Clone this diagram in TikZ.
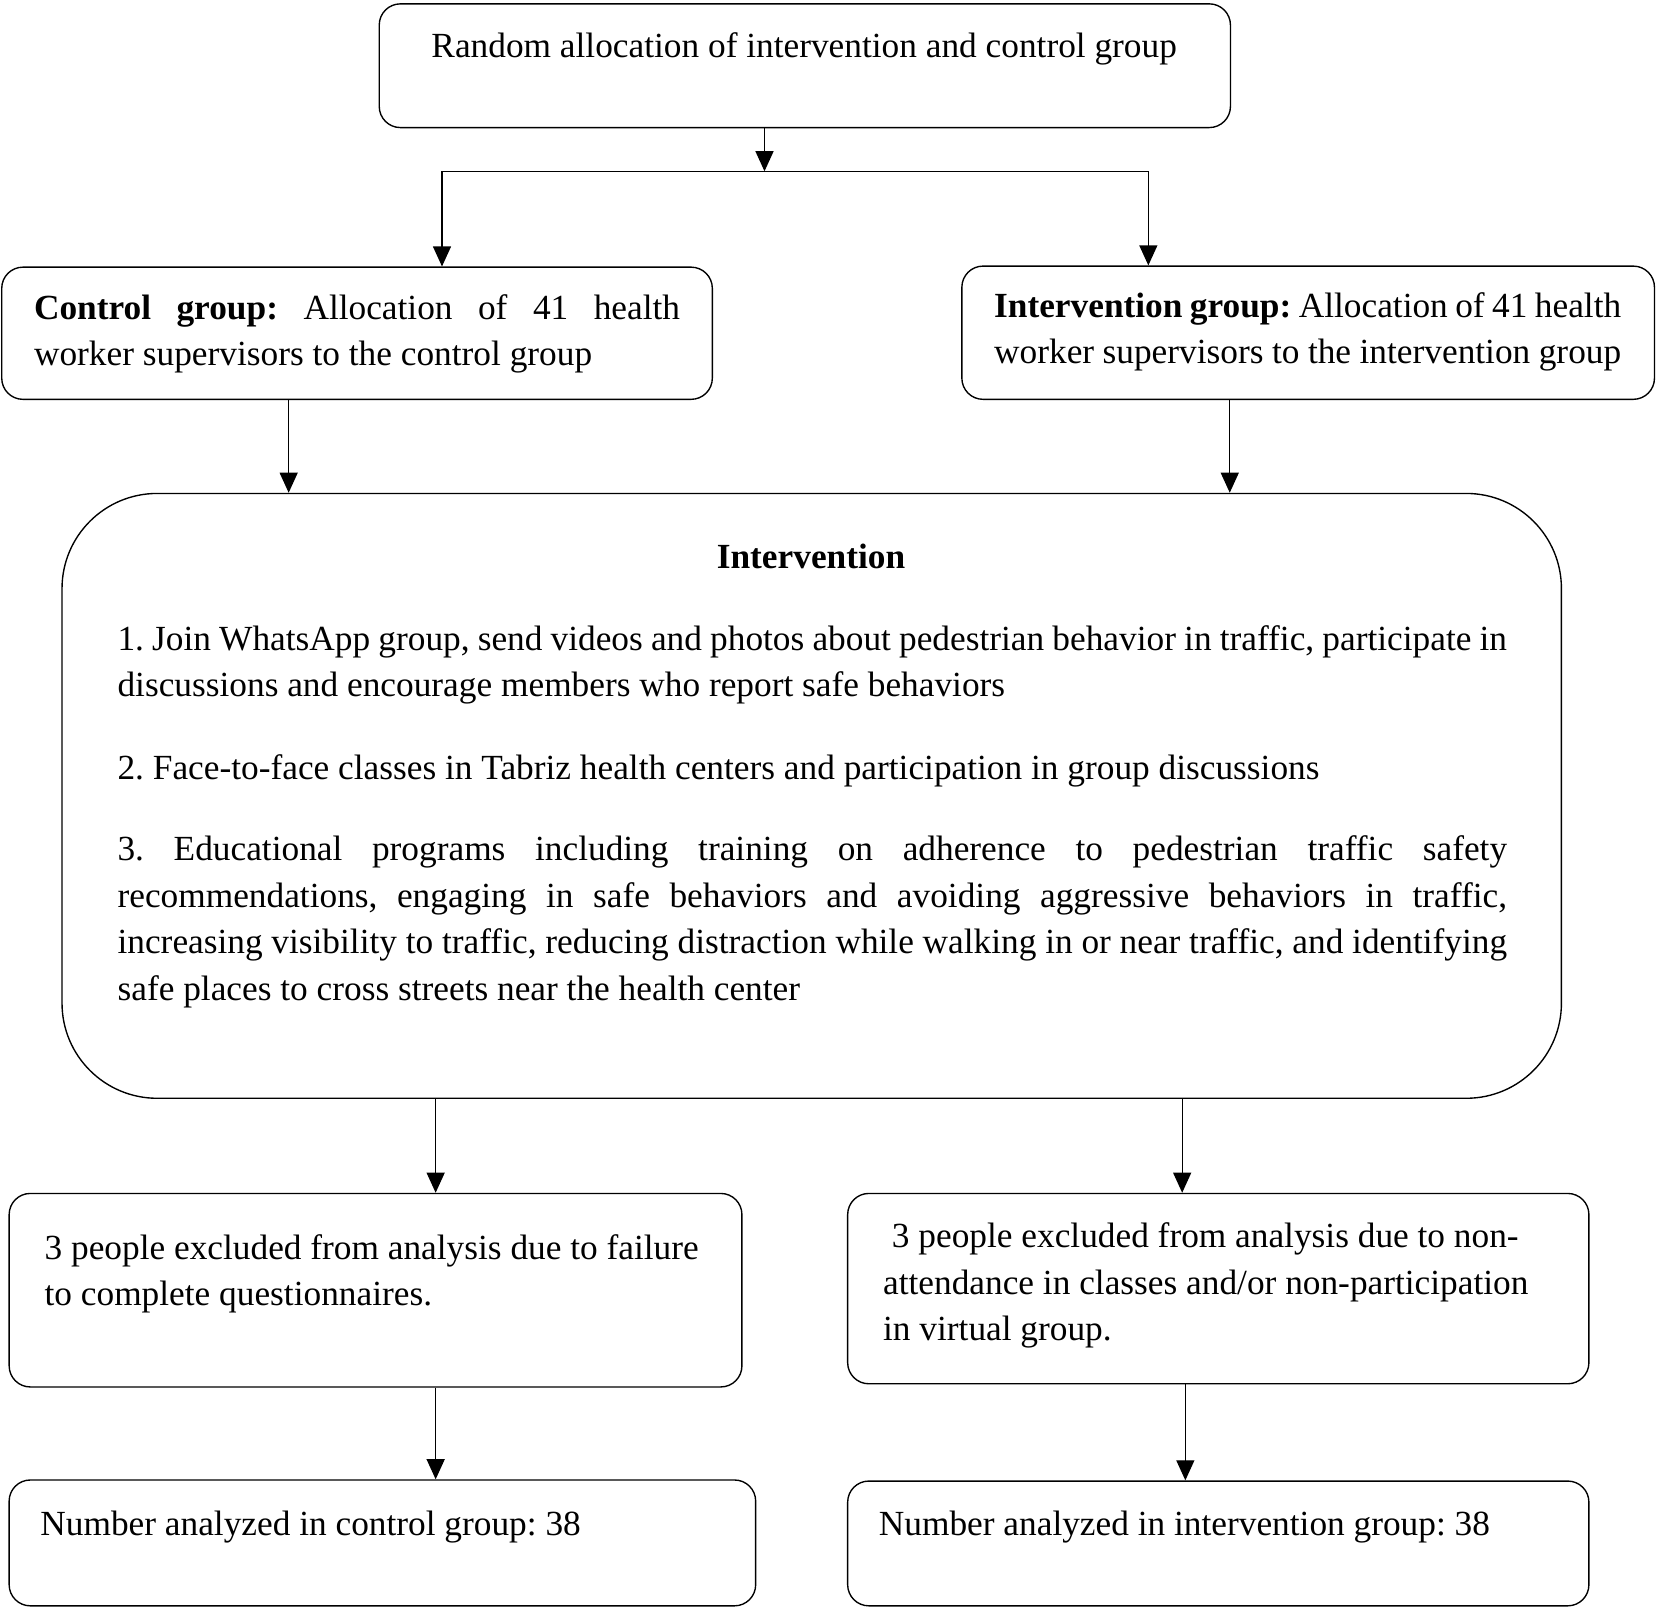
\documentclass[tikz,border=0pt]{standalone}
\usepackage{fontspec}
\setmainfont{Liberation Serif}
\usetikzlibrary{arrows.meta}
\tolerance=10000 \hyphenpenalty=10000 \pretolerance=-1
\frenchspacing
\begin{document}
\frenchspacing
\begin{tikzpicture}[x=1pt,y=-1pt,
  box/.style={draw, line width=1.3pt, rounded corners=20pt, inner sep=0pt, anchor=north west},
  bigbox/.style={box, rounded corners=90pt},
  txt/.style={font=\fontsize{33.4pt}{44pt}\selectfont\frenchspacing, inner sep=0pt, anchor=base west},
  jtxt/.style={txt, align=justify},
  ltxt/.style={txt, align=flush left},
  arr/.style={line width=1.3pt, -{Triangle[width=17pt,length=19pt]}},
  ln/.style={line width=1.3pt}]
\useasboundingbox (0,0) rectangle (1568,1520.7);
% boxes
\node[box, minimum width=805pt, minimum height=117pt] (top) at (358,3) {};
\node[box, minimum width=672pt, minimum height=125pt] (ctrl) at (1,252) {};
\node[box, minimum width=655pt, minimum height=126pt] (igrp) at (909,251) {};
\node[bigbox, minimum width=1418pt, minimum height=572pt] (big) at (58,466) {};
\node[box, minimum width=693pt, minimum height=183pt] (exl) at (8,1128) {};
\node[box, minimum width=701pt, minimum height=180pt] (exr) at (801,1128) {};
\node[box, minimum width=706pt, minimum height=119pt] (anl) at (8,1399) {};
\node[box, minimum width=701pt, minimum height=118pt] (anr) at (801,1400) {};
% texts
\node[txt, anchor=base] (ttop) at (760.5,54) {Random allocation of intervention and control group};
\node[jtxt, text width=611pt] (tctrl) at (32,302) {\textbf{Control group:} Allocation of 41 health\linebreak worker supervisors to the control group};
\node[jtxt, text width=593pt] (tigrp) at (940,300) {\textbf{Intervention group:} Allocation of 41 health\linebreak worker supervisors to the intervention group};
\node[txt, anchor=base] (ttitle) at (767,538) {\textbf{Intervention}};
\node[jtxt, text width=1314pt] (ti1) at (111,615) {1. Join WhatsApp group, send videos and photos about pedestrian behavior in traffic, participate in\linebreak discussions and encourage members who report safe behaviors};
\node[jtxt, text width=1314pt] (ti2) at (111,737) {2. Face-to-face classes in Tabriz health centers and participation in group discussions};
\node[jtxt, text width=1314pt] (ti3) at (111,814) {3. Educational programs including training on adherence to pedestrian traffic safety\linebreak recommendations, engaging in safe behaviors and avoiding aggressive behaviors in traffic,\linebreak increasing visibility to traffic, reducing distraction while walking in or near traffic, and identifying\linebreak safe places to cross streets near the health center};
\node[ltxt, text width=650pt] (texl) at (42,1191) {3 people excluded from analysis due to failure\\to complete questionnaires.};
\node[ltxt, text width=650pt] (texr) at (835,1180) {\hspace*{8.35pt}3 people excluded from analysis due to non-\\attendance in classes and/or non-participation\\in virtual group.};
\node[txt] (tanl) at (38,1452) {Number analyzed in control group: 38};
\node[txt] (tanr) at (831,1452) {Number analyzed in intervention group: 38};
% connectors
\coordinate (split) at (723,162);
\coordinate (jl) at (418,162);
\coordinate (jr) at (1086,162);
\draw[arr] (top.south -| split) -- (split);
\draw[ln] (jl) -- (jr);
\draw[arr] (jl) -- (jl |- ctrl.north);
\draw[arr] (jr) -- (jr |- igrp.north);
\coordinate (c1) at (273,0);
\coordinate (c2) at (1163,0);
\draw[arr] (ctrl.south -| c1) -- (big.north -| c1);
\draw[arr] (igrp.south -| c2) -- (big.north -| c2);
\coordinate (c3) at (412,0);
\coordinate (c4) at (1118,0);
\coordinate (c5) at (1121,0);
\draw[arr] (big.south -| c3) -- (exl.north -| c3);
\draw[arr] (big.south -| c4) -- (exr.north -| c4);
\draw[arr] (exl.south -| c3) -- (anl.north -| c3);
\draw[arr] (exr.south -| c5) -- (anr.north -| c5);
\end{tikzpicture}
\end{document}
